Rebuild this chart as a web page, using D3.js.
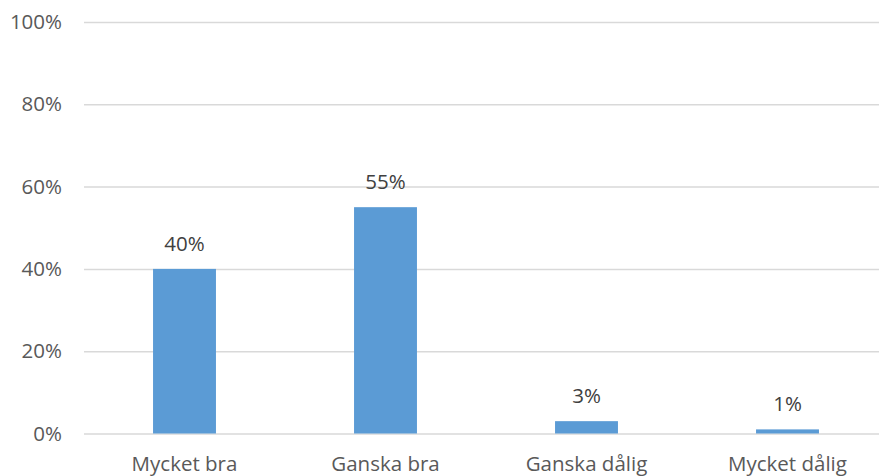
<!DOCTYPE html>
<html>
<head>
<meta charset="utf-8">
<script src="https://cdn.jsdelivr.net/npm/d3@7"></script>
<style>
  body { margin: 0; background: #fff; }
  svg { display: block; font-family: "Open Sans", sans-serif; }
  .grid line { stroke: #d9d9d9; stroke-width: 1.5; }
  .grid path { display: none; }
  .ylab text { fill: #595959; font-size: 20.5px; }
  .xlab text { fill: #595959; font-size: 20.5px; }
  .value { fill: #404040; font-size: 20.5px; }
</style>
</head>
<body>
<div id="chart"></div>
<script>
const categories = ["Mycket bra", "Ganska bra", "Ganska dålig", "Mycket dålig"];
const values = [0.40, 0.55, 0.03, 0.01];
const valueLabels = ["40%", "55%", "3%", "1%"];
const yTicks = [0, 0.2, 0.4, 0.6, 0.8, 1.0];

const width = 879;
const height = 476;
const plotLeft = 84, plotRight = 888, plotTop = 22, plotBottom = 433.5;

const svg = d3.select('#chart').append('svg')
    .attr('width', width)
    .attr('height', height);

const xScale = d3.scaleBand()
    .domain(categories)
    .range([plotLeft, plotRight])
    .paddingInner(0.687)
    .paddingOuter(0.3435);

const yScale = d3.scaleLinear()
    .domain([0, 1])
    .range([plotBottom, plotTop]);

// gridlines
svg.append('g')
    .attr('class', 'grid')
    .attr('transform', `translate(${plotLeft}, 0)`)
    .call(d3.axisLeft(yScale).tickValues(yTicks).tickSize(-(plotRight - plotLeft)).tickFormat(''));

// y labels
svg.append('g')
    .attr('class', 'ylab')
    .selectAll('text')
    .data(yTicks)
    .enter()
    .append('text')
    .attr('x', 62)
    .attr('y', d => yScale(d))
    .attr('dy', '0.35em')
    .attr('text-anchor', 'end')
    .text(d3.format('.0%'));

// bars
svg.append('g')
    .selectAll('rect')
    .data(values)
    .enter()
    .append('rect')
    .attr('x', (d, i) => xScale(categories[i]))
    .attr('y', d => yScale(d))
    .attr('width', xScale.bandwidth())
    .attr('height', d => yScale(0) - yScale(d))
    .attr('fill', '#5b9bd5');

// value labels
svg.append('g')
    .selectAll('text')
    .data(values)
    .enter()
    .append('text')
    .attr('class', 'value')
    .attr('x', (d, i) => xScale(categories[i]) + xScale.bandwidth() / 2)
    .attr('y', d => yScale(d) - 18)
    .attr('text-anchor', 'middle')
    .text((d, i) => valueLabels[i]);

// category labels
svg.append('g')
    .attr('class', 'xlab')
    .selectAll('text')
    .data(categories)
    .enter()
    .append('text')
    .attr('x', d => xScale(d) + xScale.bandwidth() / 2)
    .attr('y', 471)
    .attr('text-anchor', 'middle')
    .text(d => d);
</script>
</body>
</html>
